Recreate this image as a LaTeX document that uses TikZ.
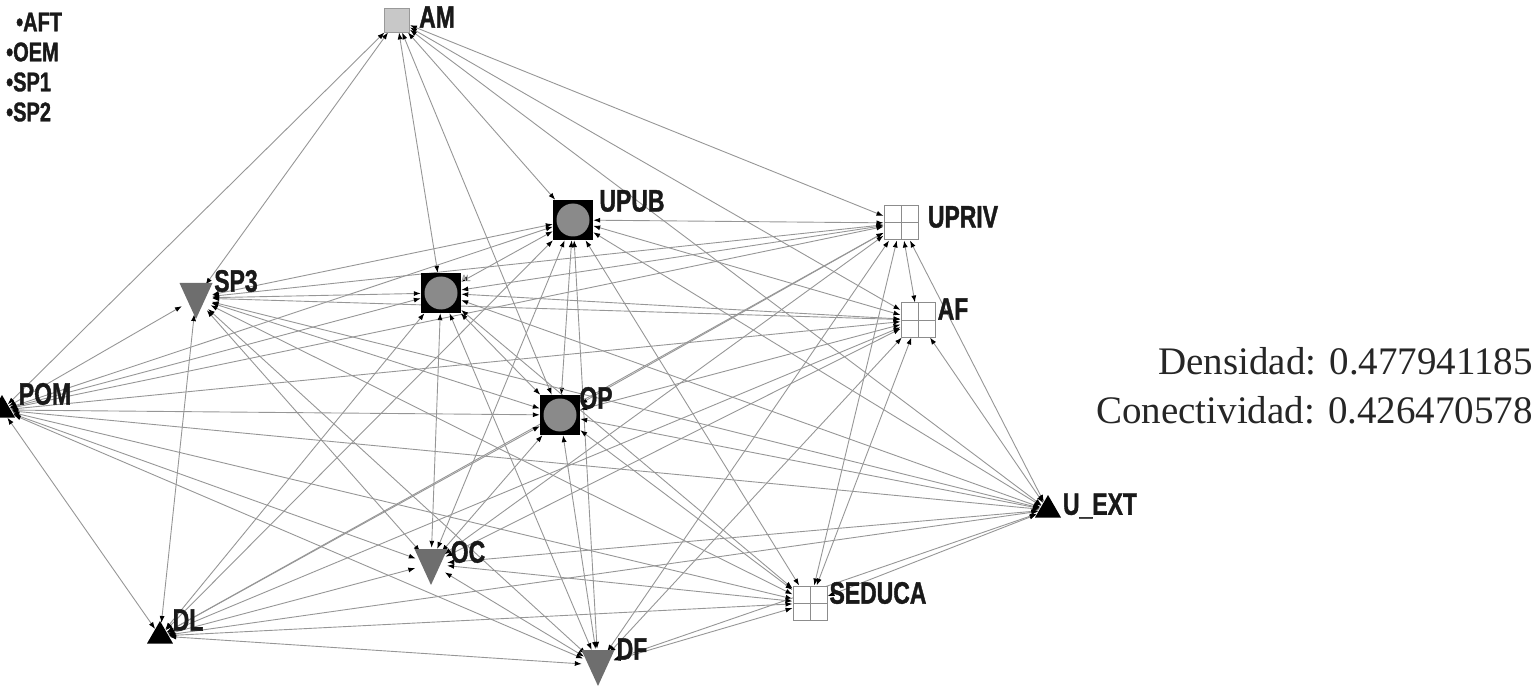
\documentclass[tikz,border=0pt]{standalone}
\usepackage{fontspec}
\usetikzlibrary{arrows.meta,shapes.geometric,backgrounds}
\newfontfamily\labf[FakeStretch=0.74,FakeBold=1.2]{Liberation Sans Bold}
\newfontfamily\serf{Liberation Serif}
\definecolor{edgegray}{RGB}{150,150,150}
\definecolor{circgray}{RGB}{138,138,138}
\definecolor{trigray}{RGB}{110,110,110}
\definecolor{amgray}{RGB}{200,200,200}
\definecolor{gridgray}{RGB}{140,140,140}
\begin{document}
\begin{tikzpicture}[x=1pt,y=-1pt,
  sqc/.style={rectangle, inner sep=0pt, minimum size=40pt, fill=black,
    path picture={\fill[circgray] (path picture bounding box.center) circle (16.5pt);}},
  gsq/.style={rectangle, inner sep=0pt, minimum size=34pt, fill=white, draw=gridgray, line width=1pt,
    path picture={\draw[gridgray, line width=1pt] (path picture bounding box.north) -- (path picture bounding box.south)
      (path picture bounding box.west) -- (path picture bounding box.east);}},
  amsq/.style={rectangle, inner sep=0pt, minimum width=25pt, minimum height=24pt, fill=amgray, draw=gray!80, line width=0.8pt},
  utri/.style={regular polygon, regular polygon sides=3, inner sep=0pt, minimum size=30pt, fill=black},
  vt/.style={circle, inner sep=0pt, minimum size=32pt, draw=none},
  lab/.style={font=\labf\fontsize{31}{33}\selectfont, inner sep=0pt, text=black!90},
  leg/.style={font=\labf\fontsize{27}{29}\selectfont, inner sep=0pt, anchor=west, text=black!90},
  e/.style={draw=edgegray, line width=0.9pt,
    {Latex[length=7pt,width=5pt,color=black]}-{Latex[length=7pt,width=5pt,color=black]}},
  pics/downtri/.style={code={\fill[trigray] (-16.5,-15) -- (16.5,-15) -- (0,21) -- cycle;}}
]
\useasboundingbox (0,0) rectangle (1535,687);

% nodes
\node[amsq] (AM) at (397,20) {};
\node[sqc] (UPUB) at (573,220) {};
\node[sqc] (AL) at (441,293) {};
\node[sqc] (OP) at (560,415) {};
\node[gsq] (UPRIV) at (901,223) {};
\node[gsq] (AF) at (918,320) {};
\node[gsq] (SED) at (810,603) {};
\node[utri] (POM) at (2,410) {};
\node[utri] (UEXT) at (1048,510) {};
\node[utri] (DL) at (160,636) {};
\pic at (196,298) {downtri};
\node[vt] (SP3) at (196,298) {};
\pic at (431,564) {downtri};
\node[vt] (OC) at (431,564) {};
\pic at (598,665) {downtri};
\node[vt] (DF) at (598,665) {};

% edges
\begin{scope}[on background layer]
\foreach \a/\b in {AM/UPUB,AM/UPRIV,AM/SP3,AM/AL,AM/AF,AM/POM,AM/OP,AM/UEXT,
  UPUB/UPRIV,UPUB/SP3,UPUB/AL,UPUB/AF,UPUB/POM,UPUB/OP,UPUB/UEXT,UPUB/OC,UPUB/SED,UPUB/DL,UPUB/DF,
  UPRIV/SP3,UPRIV/AL,UPRIV/AF,UPRIV/POM,UPRIV/OP,UPRIV/UEXT,UPRIV/OC,UPRIV/SED,UPRIV/DL,UPRIV/DF,
  SP3/AL,SP3/AF,SP3/POM,SP3/OP,SP3/UEXT,SP3/OC,SP3/SED,SP3/DL,SP3/DF,
  AL/AF,AL/POM,AL/OP,AL/UEXT,AL/OC,AL/SED,AL/DL,AL/DF,
  AF/POM,AF/OP,AF/UEXT,AF/OC,AF/SED,AF/DL,AF/DF,
  POM/OP,POM/UEXT,POM/OC,POM/SED,POM/DL,POM/DF,
  OP/UEXT,OP/OC,OP/SED,OP/DL,OP/DF,
  UEXT/OC,UEXT/SED,UEXT/DL,UEXT/DF,
  OC/SED,OC/DL,OC/DF,
  SED/DL,SED/DF,
  DL/DF}
  \draw[e] (\a) -- (\b);
\end{scope}

% labels
\node[lab] (lAM) at (437,17) {AM};
\node[lab] (lUPUB) at (632,201) {UPUB};
\node[lab] (lUPRIV) at (963,217) {UPRIV};
\node[lab] (lSP3) at (236,281) {SP3};
\node[font=\labf\fontsize{9}{10}\selectfont, text=gray!70, inner sep=0pt] (lAL) at (466,278) {AL};
\node[lab] (lAF) at (953,309) {AF};
\node[lab] (lPOM) at (45,394) {POM};
\node[lab] (lOP) at (596,398) {OP};
\node[lab] (lUEXT) at (1100,506) {U\_EXT};
\node[lab] (lOC) at (468,552) {OC};
\node[lab] (lSED) at (878,593) {SEDUCA};
\node[lab] (lDL) at (188,620) {DL};
\node[lab] (lDF) at (632,649) {DF};

% legend of isolates
\node[leg] (iAFT) at (16,22) {•AFT};
\node[leg] (iOEM) at (6,52) {•OEM};
\node[leg] (iSP1) at (6,82) {•SP1};
\node[leg] (iSP2) at (6,112) {•SP2};

% statistics
\node[font=\serf\fontsize{39}{44}\selectfont, anchor=base east, inner sep=0pt, text=black!85] (dens) at (1533,374) {Densidad: 0.477941185};
\node[font=\serf\fontsize{39}{44}\selectfont, anchor=base east, inner sep=0pt, text=black!85] (conec) at (1533,423) {Conectividad: 0.426470578};
\end{tikzpicture}
\end{document}
